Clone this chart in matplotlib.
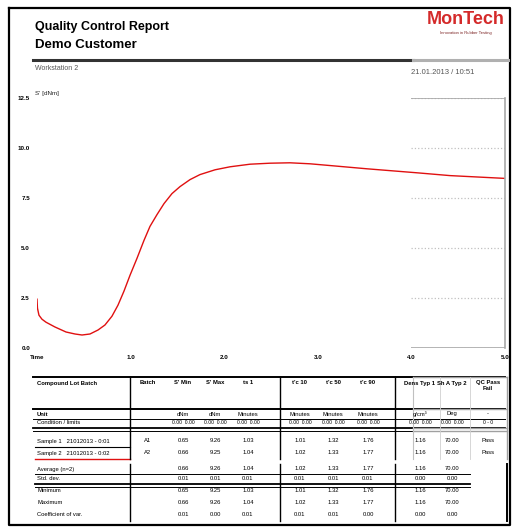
import matplotlib
matplotlib.use("Agg")
import matplotlib.pyplot as plt

plt.rcParams['font.family'] = ['Liberation Sans', 'DejaVu Sans']

# Cure curve: time in minutes, torque S' in dNm
time_min = [0.000, 0.005, 0.021, 0.053, 0.096, 0.192, 0.310, 0.406, 0.481,
            0.566, 0.652, 0.726, 0.801, 0.865, 0.929, 0.994, 1.068, 1.143,
            1.207, 1.282, 1.357, 1.442, 1.528, 1.635, 1.741, 1.902, 2.062,
            2.276, 2.489, 2.703, 2.917, 3.162, 3.526, 4.060, 4.412, 5.000]
torque_dnm = [2.44, 1.99, 1.64, 1.44, 1.29, 1.05, 0.80, 0.70, 0.65,
              0.70, 0.90, 1.15, 1.59, 2.14, 2.84, 3.64, 4.48, 5.38,
              6.08, 6.67, 7.22, 7.72, 8.07, 8.42, 8.67, 8.91, 9.06,
              9.19, 9.24, 9.26, 9.21, 9.11, 8.96, 8.76, 8.62, 8.48]

x_ticks = [0, 1, 2, 3, 4, 5]
x_tick_labels = ["Time", "1.0", "2.0", "3.0", "4.0", "5.0"]
y_ticks = [0.0, 2.5, 5.0, 7.5, 10.0, 12.5]
y_tick_labels = ["0.0", "2.5", "5.0", "7.5", "10.0", "12.5"]

# Result table
col_headers = ["Batch", "S' Min", "S' Max", "ts 1", "t'c 10", "t'c 50", "t'c 90",
               "Dens Typ 1", "Sh A Typ 2", "QC Pass\nFail"]
unit_row = ["", "dNm", "dNm", "Minutes", "Minutes", "Minutes", "Minutes",
            "g/cm³", "Deg", "-"]
limit_row = ["", "0.00  0.00", "0.00  0.00", "0.00  0.00", "0.00  0.00",
             "0.00  0.00", "0.00  0.00", "0.00  0.00", "0.00  0.00", "0 - 0"]
sample_labels = ["Sample 1   21012013 - 0:01", "Sample 2   21012013 - 0:02"]
sample_rows = [
    ["A1", "0.65", "9.26", "1.03", "1.01", "1.32", "1.76", "1.16", "70.00", "Pass"],
    ["A2", "0.66", "9.25", "1.04", "1.02", "1.33", "1.77", "1.16", "70.00", "Pass"],
]
stat_labels = ["Average (n=2)", "Std. dev.", "Minimum", "Maximum", "Coefficient of var."]
stat_rows = [
    ["", "0.66", "9.26", "1.04", "1.02", "1.33", "1.77", "1.16", "70.00"],
    ["", "0.01", "0.01", "0.01", "0.01", "0.01", "0.01", "0.00", "0.00"],
    ["", "0.65", "9.25", "1.03", "1.01", "1.32", "1.76", "1.16", "70.00"],
    ["", "0.66", "9.26", "1.04", "1.02", "1.33", "1.77", "1.16", "70.00"],
    ["", "0.01", "0.00", "0.01", "0.01", "0.01", "0.00", "0.00", "0.00"],
]

W, H = 520, 530
fig = plt.figure(figsize=(W / 100, H / 100), dpi=100)

# page layer in pixel coordinates
page = fig.add_axes([0, 0, 1, 1])
page.set_xlim(0, W)
page.set_ylim(H, 0)
page.axis("off")

# page frame
page.plot([9, 9, 510, 510, 9], [8, 525, 525, 8, 8], color="black", lw=1.6)

# header
page.text(35, 27, "Quality Control Report", fontsize=9, fontweight="bold", va="center")
page.text(35, 45, "Demo Customer", fontsize=9.5, fontweight="bold", va="center")
page.plot([33, 413], [60, 60], color="#333333", lw=2.2)
page.plot([413, 508], [60, 60], color="#b0b0b0", lw=2.2)
page.text(35, 68, "Workstation 2", fontsize=5, color="#555555", va="center")
page.text(474, 72, "21.01.2013 / 10:51", fontsize=5.5, color="#555555", va="center", ha="right")
page.text(466, 20, "MonTech", fontsize=13, fontweight="bold", color="#d42a2a",
          va="center", ha="center")
page.text(466, 33, "Innovation in Rubber Testing", fontsize=3, color="#7a2020",
          va="center", ha="center")
page.text(35, 93, "S' [dNm]", fontsize=4.5, color="#222222", va="center")

# chart
ax = fig.add_axes([37 / W, 1 - 348 / H, 468 / W, 250 / H])
ax.set_xlim(0, 5)
ax.set_ylim(0, 12.5)
for s in ["left", "bottom", "top"]:
    ax.spines[s].set_visible(False)
ax.spines["right"].set_color("#a8a8a8")
ax.spines["right"].set_linewidth(1.2)
ax.hlines(y_ticks, 4.0, 5.0, colors="#c0c0c0", linestyles=":", lw=0.9)
ax.hlines([12.5, 0.0], 4.0, 5.0, colors="#a8a8a8", lw=1.2)
ax.plot(time_min, torque_dnm, color="#e01010", lw=1.0, solid_joinstyle="round")
ax.set_xticks(x_ticks)
ax.set_xticklabels(x_tick_labels, fontsize=4.5, fontweight="bold")
ax.set_yticks(y_ticks)
ax.set_yticklabels(y_tick_labels, fontsize=4.5, fontweight="bold")
ax.tick_params(length=0, pad=5)
ax.patch.set_alpha(0)

# table
col_x = [148, 183, 215, 248, 300, 333, 368, 420, 452, 488]
L, R = 33, 505
fs = 4.2

def hline(y, lw=0.8, x0=L, x1=R, color="black"):
    page.plot([x0, x1], [y, y], color=color, lw=lw)

def vline(x, y0, y1, lw=1.0, color="black"):
    page.plot([x, x], [y0, y1], color=color, lw=lw)

hline(377, 1.4)
page.text(37, 383, "Compound Lot Batch", fontsize=fs, fontweight="bold", va="center")
for x, t in zip(col_x, col_headers):
    if "\n" in t:
        page.text(x, 380, t, fontsize=fs, fontweight="bold", va="top", ha="center",
                  linespacing=1.3)
    else:
        page.text(x, 383, t, fontsize=fs, fontweight="bold", va="center", ha="center")

hline(409, 1.4)
page.text(37, 414, "Unit", fontsize=fs, fontweight="bold", va="center")
for x, t in zip(col_x, unit_row):
    page.text(x, 414, t, fontsize=fs, va="center", ha="center")
hline(418.5, 0.7)
page.text(37, 423, "Condition / limits", fontsize=fs, va="center")
for x, t in zip(col_x, limit_row):
    page.text(x, 423, t, fontsize=3.6, va="center", ha="center")
hline(428, 1.3)
hline(431, 0.7)

for i, (lab, row) in enumerate(zip(sample_labels, sample_rows)):
    y = 441 + 12 * i
    page.text(37, y, lab, fontsize=fs, va="center")
    for x, t in zip(col_x, row):
        page.text(x, y, t, fontsize=fs, va="center", ha="center")
hline(446.5, 0.8, 35, 130)
page.plot([35, 130], [458.5, 458.5], color="#e01010", lw=1.0)

vline(130, 377, 459)
vline(280, 377, 459)
vline(395, 377, 459)

for i, (lab, row) in enumerate(zip(stat_labels, stat_rows)):
    y = 469 + [0, 10, 22, 34, 46][i]
    page.text(37, y, lab, fontsize=fs, va="center")
    for x, t in zip(col_x, row):
        page.text(x, y, t, fontsize=fs, va="center", ha="center")
hline(474, 0.7, 35, 470)
hline(484, 1.3, 35, 470)
hline(486.5, 0.7, 35, 470)
vline(130, 464, 521)
vline(280, 464, 521)
vline(395, 464, 521)
vline(507, 464, 521, lw=1.4)

# faded overlay of the right column of the table
for y in (377, 409, 428, 431):
    hline(y, 1.0, 413, 507, color="#a0a0a0")
vline(413, 377, 459, lw=0.8, color="#c0c0c0")
vline(440, 377, 459, lw=0.6, color="#d0d0d0")
vline(470, 377, 459, lw=0.6, color="#d0d0d0")
vline(507, 377, 459, lw=1.0, color="#a0a0a0")

fig.savefig("out.png", dpi=100)
